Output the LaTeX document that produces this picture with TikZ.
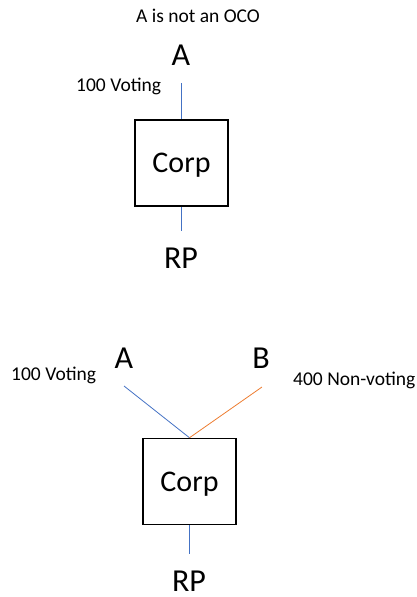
\documentclass[tikz,border=0pt]{standalone}
\usepackage{fontspec}
\setmainfont{Carlito}
\definecolor{lblue}{HTML}{4472C4}
\definecolor{lorange}{HTML}{ED7D31}
\begin{document}
\begin{tikzpicture}[x=1pt,y=-1pt,
 big/.style={font=\fontsize{32}{36}\selectfont, anchor=base, inner sep=0pt, text depth=0pt},
 lbl/.style={font=\fontsize{19.5}{22}\selectfont, anchor=base west, inner sep=0pt},
 corpbox/.style={draw, line width=1.5pt, minimum width=93pt, minimum height=86pt, inner sep=0pt, text depth=0pt, font=\fontsize{30}{34}\selectfont},
 bl/.style={draw=lblue, line width=0.8pt},
 ol/.style={draw=lorange, line width=0.8pt}]
\useasboundingbox (0,0) rectangle (417,597);
% top diagram
\node[lbl, anchor=base] (title) at (198,22) {A is not an OCO};
\node[big] (a1) at (181,65) {A};
\node[lbl] (v1) at (76,91) {100 Voting};
\node[corpbox] (c1) at (181.5,163) {Corp};
\node[big] (rp1) at (181,268) {RP};
\coordinate (a1e) at (181.5,83);
\coordinate (rp1e) at (181.5,231);
\draw[bl] (a1e) -- (c1.north);
\draw[bl] (c1.south) -- (rp1e);
% bottom diagram
\node[big] (a2) at (124,368) {A};
\node[big] (b2) at (261,368) {B};
\node[lbl] (v2) at (11,380) {100 Voting};
\node[lbl] (nv2) at (293,385) {400 Non-voting};
\node[corpbox] (c2) at (189.5,481.5) {Corp};
\node[big] (rp2) at (189,591) {RP};
\coordinate (a2e) at (124,386);
\coordinate (b2e) at (262,387);
\coordinate (rp2e) at (189.5,554);
\draw[bl] (a2e) -- (c2.north);
\draw[ol] (b2e) -- (c2.north);
\draw[bl] (c2.south) -- (rp2e);
\end{tikzpicture}
\end{document}
